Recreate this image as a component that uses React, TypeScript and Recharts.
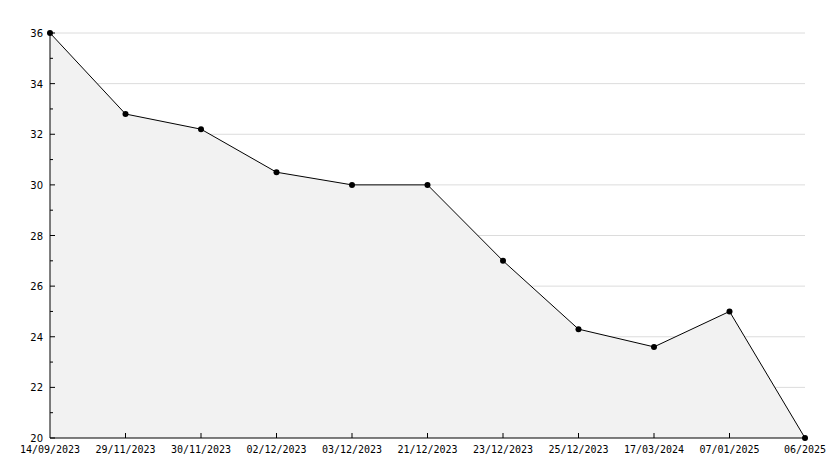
import React from "react";
import {
  AreaChart,
  Area,
  XAxis,
  YAxis,
  CartesianGrid,
} from "recharts";

const DATES = [
  "14/09/2023",
  "29/11/2023",
  "30/11/2023",
  "02/12/2023",
  "03/12/2023",
  "21/12/2023",
  "23/12/2023",
  "25/12/2023",
  "17/03/2024",
  "07/01/2025",
  "06/2025",
];

const VALUES = [36, 32.8, 32.2, 30.5, 30, 30, 27, 24.3, 23.6, 25, 20];

const Y_MIN = 20;
const Y_MAX = 36;
const Y_TICKS = [20, 21, 22, 23, 24, 25, 26, 27, 28, 29, 30, 31, 32, 33, 34, 35, 36];
const Y_MAJOR = [20, 22, 24, 26, 28, 30, 32, 34, 36];

const chartData = DATES.map((d, i) => ({ date: d, value: VALUES[i] }));

const YTick = (props: any) => {
  const { x, y, payload } = props;
  const major = Y_MAJOR.includes(payload.value);
  return (
    <g>
      <line x1={x} x2={x + (major ? 5 : 3)} y1={y} y2={y} stroke='#000' />
      {major && (
        <text
          x={x - 7}
          y={y + 4}
          textAnchor='end'
          fontSize={10}
          fontFamily='DejaVu Sans'
          fill='#000'
        >
          {payload.value}
        </text>
      )}
    </g>
  );
};

const XTick = (props: any) => {
  const { x, y, payload, index } = props;
  return (
    <g>
      {index > 0 && index < DATES.length - 1 && (
        <line x1={x} x2={x} y1={y} y2={y - 5} stroke='#000' />
      )}
      <text
        x={x}
        y={y + 15}
        textAnchor='middle'
        fontSize={10}
        fontFamily='DejaVu Sans Mono'
        fill='#000'
      >
        {payload.value}
      </text>
    </g>
  );
};

const Dot = (props: any) => {
  const { cx, cy } = props;
  if (cx == null || cy == null) return null;
  return <circle cx={cx} cy={cy} r={3} fill='#000' stroke='none' />;
};

// grid only on the labelled values
const gridRows = ({ offset }: any) =>
  Y_MAJOR.slice(1).map(
    (v) => offset.top + ((Y_MAX - v) / (Y_MAX - Y_MIN)) * offset.height
  );

const App: React.FC = () => {
  return (
    <div style={{ width: 834, height: 468 }}>
      <style>{"body{margin:0;}"}</style>
      <AreaChart
        width={834}
        height={468}
        data={chartData}
        margin={{ top: 33, right: 29, bottom: 0, left: 0 }}
      >
        <CartesianGrid
          vertical={false}
          stroke='#dcdcdc'
          horizontalCoordinatesGenerator={gridRows}
        />
        <XAxis
          dataKey='date'
          height={30}
          tickSize={0}
          tickMargin={0}
          axisLine={{ stroke: "#000" }}
          tickLine={false}
          tick={<XTick />}
          interval={0}
        />
        <YAxis
          width={50}
          domain={[Y_MIN, Y_MAX]}
          ticks={Y_TICKS}
          tickSize={0}
          tickMargin={0}
          axisLine={{ stroke: "#000" }}
          tickLine={false}
          tick={<YTick />}
          interval={0}
        />
        <Area
          type='linear'
          dataKey='value'
          stroke='#000'
          strokeWidth={1}
          fill='#f2f2f2'
          fillOpacity={1}
          dot={<Dot />}
          activeDot={false}
          baseValue={Y_MIN}
          isAnimationActive={false}
        />
      </AreaChart>
    </div>
  );
};

export default App;
